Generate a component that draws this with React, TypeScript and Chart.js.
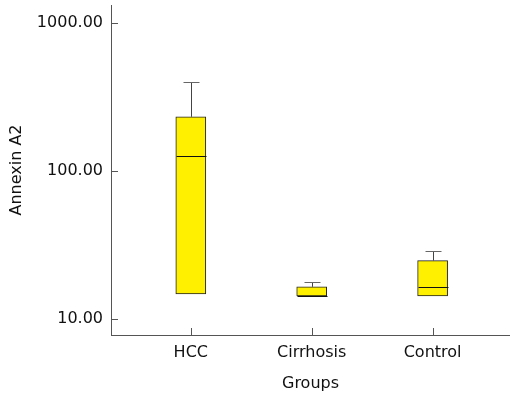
import React, { useEffect, useRef } from "react";
import { Chart, registerables } from "chart.js";

Chart.register(...registerables);

const categories = ["HCC", "Cirrhosis", "Control"];
const q1Values = [14.8, 14.3, 14.3];
const medianValues = [126, 14.3, 16.4];
const q3Values = [232, 16.5, 24.8];
const upperValues = [399, 17.7, 28.8];
const yTickValues = [10, 100, 1000];
const xPositions = [1, 2, 3];

const FONT = "'DejaVu Sans', Verdana, sans-serif";

const boxExtras = {
  id: "boxExtras",
  afterDatasetsDraw(chart: any) {
    const { ctx, scales, chartArea } = chart;
    const xs = scales.x;
    const ys = scales.y;
    ctx.save();
    xPositions.forEach((xv, i) => {
      const cx = Math.round(xs.getPixelForValue(xv)) + 0.5;
      const yQ3 = ys.getPixelForValue(q3Values[i]);
      const yUp = Math.round(ys.getPixelForValue(upperValues[i])) + 0.5;
      const yMed = Math.round(ys.getPixelForValue(medianValues[i])) + 0.5;
      const half = 15;
      ctx.lineWidth = 1;
      ctx.strokeStyle = "#444";
      ctx.beginPath();
      ctx.moveTo(cx, yQ3);
      ctx.lineTo(cx, yUp);
      ctx.stroke();
      ctx.strokeStyle = "#666";
      ctx.beginPath();
      ctx.moveTo(cx - 8, yUp);
      ctx.lineTo(cx + 8, yUp);
      ctx.stroke();
      ctx.strokeStyle = "#111";
      ctx.beginPath();
      ctx.moveTo(cx - half, yMed);
      ctx.lineTo(cx + half, yMed);
      ctx.stroke();
    });
    ctx.strokeStyle = "#555";
    ctx.lineWidth = 1;
    yTickValues.forEach((v) => {
      const y = Math.round(ys.getPixelForValue(v)) + 0.5;
      ctx.beginPath();
      ctx.moveTo(chartArea.left, y);
      ctx.lineTo(chartArea.left + 7, y);
      ctx.stroke();
    });
    xPositions.forEach((xv) => {
      const x = Math.round(xs.getPixelForValue(xv)) + 0.5;
      ctx.beginPath();
      ctx.moveTo(x, chartArea.bottom);
      ctx.lineTo(x, chartArea.bottom - 7);
      ctx.stroke();
    });
    ctx.restore();
  },
};

export default function App() {
  const ref = useRef<HTMLCanvasElement | null>(null);
  useEffect(() => {
    if (!ref.current) return;
    const chart = new Chart(ref.current, {
      type: "bar",
      data: {
        datasets: [
          {
            data: xPositions.map((x, i) => ({ x, y: [q1Values[i], q3Values[i]] })) as any,
            backgroundColor: "#FFF000",
            borderColor: "#222",
            borderWidth: 1,
            borderSkipped: false,
            barThickness: 30,
          },
        ],
      },
      options: {
        animation: false,
        responsive: false,
        layout: { padding: { top: 5, right: 0, left: 0, bottom: 0 } },
        plugins: { legend: { display: false }, tooltip: { enabled: false } },
        scales: {
          x: {
            type: "linear",
            offset: false,
            min: 0.34,
            max: 3.64,
            afterBuildTicks: (s: any) => {
              s.ticks = xPositions.map((v) => ({ value: v }));
            },
            afterFit: (s: any) => {
              s.height = 61;
              s.paddingLeft = 0;
              s.paddingRight = 0;
            },
            grid: { display: false, drawTicks: false },
            border: { display: true, color: "#555", width: 1 },
            ticks: {
              padding: 8,
              color: "#111",
              font: { family: FONT, size: 16 },
              callback: (v: any) => categories[xPositions.indexOf(Number(v))] ?? "",
            },
            title: {
              display: true,
              text: "Groups",
              color: "#111",
              font: { family: FONT, size: 16 },
              padding: { top: 0, bottom: 3 },
            },
          },
          y: {
            type: "logarithmic",
            min: 7.8,
            max: 1320,
            afterBuildTicks: (s: any) => {
              s.ticks = yTickValues.map((v) => ({ value: v }));
            },
            afterFit: (s: any) => {
              s.width = 111;
              s.paddingTop = 0;
              s.paddingBottom = 0;
            },
            grid: { display: false, drawTicks: false },
            border: { display: true, color: "#555", width: 1 },
            ticks: {
              padding: 8,
              color: "#111",
              font: { family: FONT, size: 16 },
              callback: (v: any) => Number(v).toFixed(2),
            },
            title: {
              display: true,
              text: "Annexin A2",
              color: "#111",
              font: { family: FONT, size: 16 },
              padding: { top: 7, bottom: 0 },
            },
          },
        },
      },
      plugins: [boxExtras],
    });
    return () => chart.destroy();
  }, []);
  return (
    <div style={{ position: "fixed", left: 0, top: 0, width: 510, height: 396, background: "#fff" }}>
      <canvas ref={ref} width={510} height={396} />
    </div>
  );
}
